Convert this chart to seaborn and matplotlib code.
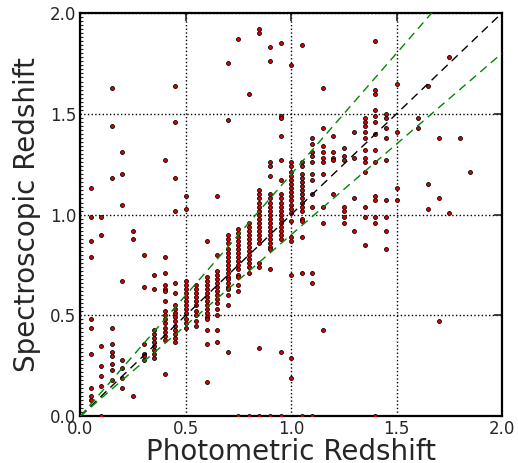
import matplotlib
matplotlib.use("Agg")
import matplotlib.pyplot as plt
from matplotlib.ticker import MultipleLocator
import seaborn as sns
import numpy as np
import pandas as pd

# ---------------------------------------------------------------------------
# Data: photometric redshift columns (binned at 0.05)
# and the spectroscopic redshifts found in each column
# ---------------------------------------------------------------------------
phot_bins = [0.05, 0.10, 0.15, 0.20, 0.25, 0.30, 0.35, 0.40, 0.45, 0.50,
             0.55, 0.60, 0.65, 0.70, 0.75, 0.80, 0.85, 0.90, 0.95, 1.00,
             1.05, 1.10, 1.15, 1.20, 1.25, 1.30, 1.35, 1.40, 1.45, 1.50,
             1.60, 1.65, 1.70, 1.75, 1.80, 1.85]

spec_per_bin = [
    [1.13, 0.99, 0.87, 0.79, 0.48, 0.44, 0.31, 0.14, 0.10, 0.08],
    [0.99, 0.90, 0.35, 0.25, 0.20, 0.15, 0.0],
    [1.63, 1.44, 1.18, 0.44, 0.36, 0.32, 0.30, 0.26, 0.23, 0.18],
    [1.31, 1.20, 1.05, 0.67, 0.28, 0.24, 0.19, 0.14],
    [0.92, 0.88, 0.10],
    [0.80, 0.64, 0.36, 0.31, 0.30, 0.28],
    [0.70, 0.63, 0.43, 0.41, 0.39, 0.37, 0.35, 0.33, 0.31, 0.29],
    [1.27, 0.79, 0.71, 0.65, 0.63, 0.62, 0.57, 0.52, 0.50, 0.48, 0.46,
     0.44, 0.42, 0.40, 0.38, 0.21],
    [1.64, 1.46, 1.18, 1.02, 0.66, 0.61, 0.55, 0.53, 0.51, 0.49, 0.47,
     0.45, 0.43, 0.41, 0.39, 0.37],
    [1.09, 1.03, 0.67, 0.65, 0.63, 0.61, 0.59, 0.57, 0.55, 0.53, 0.51,
     0.48, 0.46, 0.44],
    [0.65, 0.63, 0.61, 0.59, 0.57, 0.55, 0.52, 0.50, 0.47, 0.45],
    [0.87, 0.69, 0.67, 0.65, 0.63, 0.61, 0.59, 0.57, 0.55, 0.53, 0.51,
     0.49, 0.48, 0.43, 0.36, 0.17],
    [1.09, 0.80, 0.72, 0.70, 0.68, 0.66, 0.64, 0.62, 0.60, 0.58, 0.56,
     0.53, 0.50, 0.43, 0.37],
    [1.75, 1.47, 0.90, 0.88, 0.86, 0.83, 0.81, 0.79, 0.77, 0.75, 0.73,
     0.71, 0.69, 0.68, 0.66, 0.64, 0.63, 0.60, 0.55, 0.32],
    [1.87, 0.93, 0.91, 0.89, 0.87, 0.85, 0.83, 0.81, 0.79, 0.77, 0.75,
     0.73, 0.70, 0.69, 0.65, 0.62, 0.0],
    [1.60, 0.96, 0.94, 0.92, 0.90, 0.88, 0.86, 0.84, 0.82, 0.80, 0.78,
     0.76, 0.74, 0.71, 0.0],
    [1.92, 1.90, 1.12, 1.10, 1.08, 1.06, 1.04, 1.02, 1.00, 0.98, 0.96,
     0.94, 0.92, 0.90, 0.88, 0.86, 0.76, 0.74, 0.34, 0.0],
    [1.83, 1.76, 1.26, 1.24, 1.19, 1.10, 1.08, 1.06, 1.04, 1.02, 1.00,
     0.98, 0.96, 0.94, 0.92, 0.90, 0.88, 0.86, 0.84, 0.83, 0.73, 0.0],
    [1.85, 1.49, 1.48, 1.39, 1.27, 1.17, 1.10, 1.08, 1.06, 1.04, 1.02,
     1.00, 0.98, 0.96, 0.94, 0.92, 0.90, 0.88, 0.32, 0.0],
    [1.74, 1.26, 1.24, 1.21, 1.19, 1.17, 1.15, 1.13, 1.11, 1.09, 1.07,
     1.05, 1.03, 1.01, 0.97, 0.89, 0.87, 0.70, 0.29, 0.19],
    [1.84, 1.26, 1.24, 1.20, 1.18, 1.16, 1.14, 1.12, 1.10, 1.08, 1.06,
     1.04, 1.02, 0.98, 0.97, 0.89, 0.71, 0.0],
    [1.38, 1.35, 1.31, 1.29, 1.26, 1.20, 1.17, 1.10, 1.04, 0.71, 0.66, 0.0],
    [1.63, 1.43, 1.34, 1.31, 1.28, 1.26, 1.20, 1.04, 0.96, 0.43],
    [1.39, 1.31, 1.28, 1.27, 1.10],
    [1.33, 1.29, 1.27, 1.04, 1.02, 0.99, 0.96],
    [1.41, 1.28, 1.08, 0.92],
    [1.48, 1.46, 1.44, 1.41, 1.38, 1.32, 1.28, 1.26, 1.21, 1.04, 0.99, 0.85],
    [1.86, 1.62, 1.60, 1.52, 1.49, 1.46, 1.40, 1.32, 1.26, 1.09, 1.07,
     0.99, 0.96, 0.0],
    [1.50, 1.48, 1.43, 1.38, 1.27, 1.07, 0.99, 0.92, 0.83],
    [1.65, 1.41, 1.13, 1.07],
    [1.48, 1.43],
    [1.64, 1.15, 1.03],
    [1.38, 1.08, 0.47],
    [1.78, 1.01],
    [1.38],
    [1.21],
]

# outlier lines: z_spec = z_phot, and the two envelope lines
line_x = [0.0, 2.0]
upper_slope = 1.2
lower_slope = 0.9

df = pd.DataFrame({
    'phot': [x for x, col in zip(phot_bins, spec_per_bin) for _ in col],
    'spec': [y for col in spec_per_bin for y in col],
})

# ---------------------------------------------------------------------------
# Plot
# ---------------------------------------------------------------------------
sns.set_style("white")
plt.rcParams['font.family'] = ['DejaVu Sans']

fig = plt.figure(figsize=(5.18, 4.63), dpi=100)
ax = fig.add_axes([0.155, 0.101, 0.814, 0.871])

sns.scatterplot(data=df, x='phot', y='spec', ax=ax, s=8, color='#dd0000',
                edgecolor='black', linewidth=0.6, zorder=3, legend=False)

lx = np.array(line_x)
ax.plot(lx, lx, color='black', ls='--', dashes=(6, 4), lw=1.0, zorder=4)
ax.plot(lx, upper_slope * lx, color='#008800', ls='--', dashes=(6, 4), lw=1.0, zorder=4)
ax.plot(lx, lower_slope * lx, color='#008800', ls='--', dashes=(6, 4), lw=1.0, zorder=4)

ax.set_xlim(0, 2.0)
ax.set_ylim(0, 2.0)
ax.set_xticks([0.0, 0.5, 1.0, 1.5, 2.0])
ax.set_yticks([0.0, 0.5, 1.0, 1.5, 2.0])
ax.yaxis.set_minor_locator(MultipleLocator(0.02))

ax.grid(True, which='major', color='black', linestyle=':', linewidth=1.0)
ax.tick_params(which='major', direction='in', length=6, width=1.2,
               top=True, right=True, labelsize=12, pad=3)
ax.tick_params(which='minor', direction='in', length=2, width=0.8,
               left=True, right=False, bottom=False, top=False)

for sp in ax.spines.values():
    sp.set_linewidth(1.6)
    sp.set_color('black')

ax.set_xlabel('Photometric Redshift', fontsize=20, labelpad=0)
ax.set_ylabel('Spectroscopic Redshift', fontsize=20, labelpad=6)

fig.savefig('out.png', dpi=100)
plt.close(fig)
